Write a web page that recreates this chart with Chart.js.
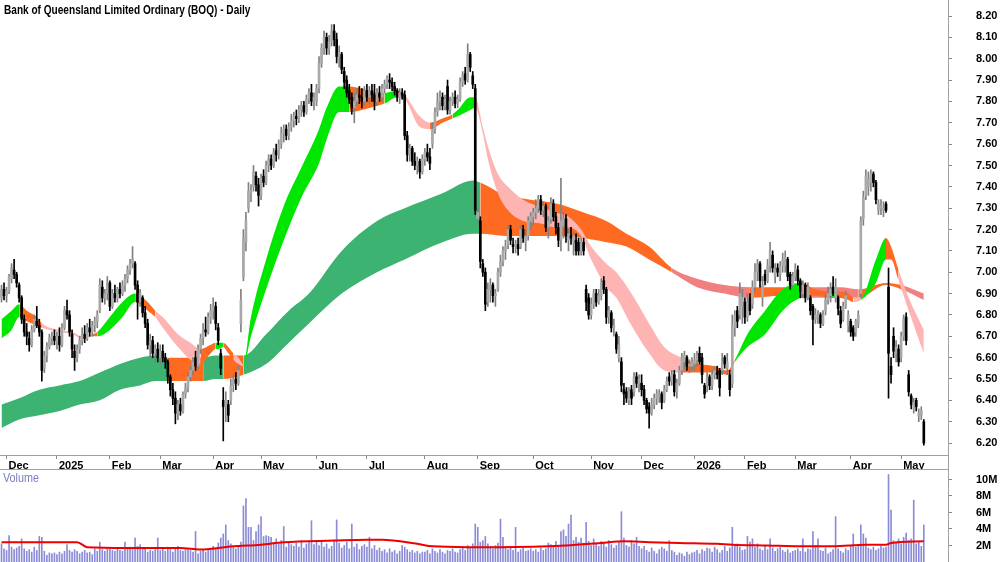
<!DOCTYPE html>
<html>
<head>
<meta charset="utf-8">
<script src="https://cdn.jsdelivr.net/npm/chart.js@4.4.1/dist/chart.umd.min.js"></script>
<style>
  body { margin: 0; background: #fff; }
  #wrap { position: relative; width: 1000px; height: 562px; overflow: hidden; background: #fff;
          font-family: 'Liberation Sans', Arial, sans-serif; }
  #mainBox { position: absolute; left: 0; top: 0; width: 1000px; height: 469px; }
  #volBox { position: absolute; left: 0; top: 469px; width: 1000px; height: 93px; }
  .title { position: absolute; left: 4px; top: 3px; font-size: 12px; font-weight: bold; color: #000;
           white-space: nowrap; transform: scaleX(0.84); transform-origin: 0 0; }
  .vlabel { position: absolute; left: 3px; top: 471px; font-size: 12px; color: #7c7cc4;
            transform: scaleX(0.9); transform-origin: 0 0; }
  .hline { position: absolute; left: 0; top: 469px; width: 948px; height: 1px; background: #a0a0a0; }
  .vline { position: absolute; left: 948px; top: 455px; width: 1px; height: 15px; background: #a0a0a0; }
</style>
</head>
<body>
<div id="wrap">
  <div id="mainBox"><canvas id="priceChart"></canvas></div>
  <div id="volBox"><canvas id="volumeChart"></canvas></div>
  <div class="hline"></div>
  <div class="vline"></div>
  <div class="title">Bank of Queensland Limited Ordinary (BOQ) - Daily</div>
  <div class="vlabel">Volume</div>
</div>
<script>
const FONT = "'Liberation Sans', Arial, sans-serif";

// x axis: bar index of first trading day of each month
const monthStarts = [2, 22, 43, 63, 84, 103, 125, 145, 168, 189, 211, 234, 254, 275, 295, 315, 337, 357];
const monthLabels = ['Dec', '2025', 'Feb', 'Mar', 'Apr', 'May', 'Jun', 'Jul', 'Aug', 'Sep', 'Oct', 'Nov', 'Dec', '2026', 'Feb', 'Mar', 'Apr', 'May'];
const priceTicks = [6.2, 6.3, 6.4, 6.5, 6.6, 6.7, 6.8, 6.9, 7.0, 7.1, 7.2, 7.3, 7.4, 7.5, 7.6, 7.7, 7.8, 7.9, 8.0, 8.1, 8.2];
const volumeTicks = [2e6, 4e6, 6e6, 8e6, 10e6];

// daily prices, one line per month (Nov 2024 .. May 2026)
const opens = [
  6.88,6.92,
  6.89,6.91,6.97,7.01,6.99,6.94,6.88,6.78,6.72,6.69,6.66,6.73,6.77,6.75,6.72,6.55,6.61,6.65,6.69,6.70,
  6.68,6.70,6.66,6.74,6.82,6.80,6.71,6.63,6.60,6.64,6.68,6.71,6.69,6.74,6.72,6.75,6.77,6.82,6.93,6.88,6.90,
  6.95,6.84,6.90,6.88,6.92,6.90,6.94,6.97,7.01,7.04,7.04,6.94,6.86,6.88,6.81,6.76,6.66,6.68,6.62,6.64,
  6.60,6.63,6.60,6.58,6.51,6.45,6.41,6.34,6.38,6.35,6.43,6.46,6.51,6.54,6.60,6.56,6.64,6.69,6.73,6.72,6.79,
  6.82,6.84,6.74,6.62,6.40,6.37,6.38,6.40,6.47,6.50,6.48,6.76,6.98,7.14,7.30,7.37,7.40,7.45,7.41,
  7.36,7.45,7.42,7.50,7.53,7.50,7.57,7.55,7.60,7.65,7.67,7.64,7.68,7.71,7.73,7.72,7.76,7.78,7.75,7.81,7.84,7.80,
  7.80,7.86,7.98,8.05,8.10,8.05,8.08,8.13,8.09,8.01,8.02,7.94,7.90,7.85,7.82,7.77,7.80,7.83,7.82,7.80,
  7.85,7.82,7.85,7.83,7.80,7.84,7.82,7.86,7.88,7.90,7.89,7.87,7.85,7.82,7.84,7.83,7.64,7.55,7.58,7.52,7.50,7.52,7.47,
  7.53,7.56,7.54,7.60,7.67,7.75,7.80,7.82,7.78,7.87,7.76,7.80,7.82,7.79,7.81,7.89,7.93,7.90,8.02,7.92,7.86,
  7.25,7.24,7.04,7.00,6.86,6.92,6.94,6.89,6.92,7.00,7.05,7.10,7.13,7.20,7.13,7.12,7.13,7.12,7.20,7.14,7.17,7.24,
  7.26,7.28,7.30,7.34,7.29,7.31,7.21,7.25,7.32,7.26,7.21,7.15,7.22,7.25,7.15,7.17,7.14,7.15,7.14,7.10,7.14,6.92,6.88,
  6.80,6.85,6.90,6.86,6.89,6.96,6.92,6.79,6.81,6.74,6.71,6.60,6.58,6.45,6.44,6.40,6.45,6.44,6.51,6.48,
  6.48,6.45,6.40,6.37,6.34,6.38,6.41,6.42,6.43,6.40,6.45,6.51,6.49,6.52,6.44,6.48,6.54,6.58,6.60,6.56,6.56,
  6.57,6.59,6.62,6.60,6.47,6.47,6.51,6.47,6.52,6.53,6.54,6.54,6.60,6.55,6.52,6.48,6.74,6.82,6.80,6.84,
  6.86,6.79,6.88,6.85,6.93,7.00,7.04,6.88,6.99,6.96,7.03,7.08,6.98,7.02,6.99,7.03,7.03,7.06,6.99,6.94,
  6.98,7.01,6.96,6.90,6.94,6.88,6.88,6.84,6.78,6.79,6.80,6.76,6.82,6.87,6.89,6.93,6.88,6.88,6.82,6.78,6.84,6.75,
  6.77,6.74,6.72,6.76,6.90,7.25,7.36,7.40,7.42,7.46,7.42,7.29,7.30,7.29,7.32,6.93,6.56,6.70,6.62,6.64,
  6.60,6.70,6.79,6.52,6.42,6.36,6.40,6.33,6.33,6.30
];
const highs = [
  6.94,6.95,
  6.93,6.99,7.04,7.06,7.00,6.95,6.89,6.80,6.76,6.72,6.75,6.80,6.84,6.78,6.73,6.63,6.67,6.71,6.72,6.73,
  6.72,6.74,6.76,6.84,6.87,6.82,6.73,6.66,6.66,6.70,6.74,6.75,6.76,6.78,6.77,6.79,6.82,6.97,6.96,6.92,6.98,
  6.96,6.92,6.94,6.93,6.95,6.96,6.99,7.03,7.06,7.12,7.05,6.96,6.92,6.89,6.84,6.78,6.71,6.70,6.66,6.67,
  6.66,6.66,6.62,6.59,6.52,6.48,6.44,6.40,6.41,6.44,6.48,6.53,6.56,6.60,6.63,6.66,6.71,6.76,6.79,6.81,6.85,
  6.88,6.86,6.76,6.64,6.46,6.44,6.40,6.50,6.52,6.53,6.56,6.92,7.20,7.28,7.42,7.41,7.50,7.47,7.44,
  7.46,7.48,7.52,7.55,7.55,7.58,7.60,7.62,7.68,7.69,7.69,7.70,7.74,7.75,7.76,7.78,7.80,7.80,7.83,7.86,7.88,7.84,
  7.88,8.01,8.07,8.13,8.12,8.11,8.16,8.16,8.12,8.06,8.03,7.96,7.92,7.88,7.84,7.84,7.86,7.87,7.86,7.87,
  7.88,7.87,7.88,7.88,7.86,7.87,7.88,7.90,7.92,7.93,7.91,7.89,7.86,7.86,7.86,7.85,7.66,7.60,7.59,7.56,7.54,7.53,7.55,
  7.58,7.60,7.58,7.70,7.77,7.84,7.85,7.84,7.83,7.90,7.82,7.84,7.85,7.83,7.91,7.94,7.96,8.07,8.03,7.94,7.88,
  7.30,7.26,7.06,7.02,6.95,6.97,6.95,6.92,7.02,7.08,7.12,7.15,7.22,7.22,7.16,7.15,7.16,7.22,7.22,7.20,7.26,7.28,
  7.30,7.34,7.36,7.36,7.33,7.32,7.26,7.35,7.34,7.28,7.23,7.44,7.28,7.27,7.20,7.21,7.19,7.18,7.16,7.16,7.16,6.94,6.90,
  6.88,6.92,6.92,6.92,6.97,6.98,6.93,6.84,6.82,6.78,6.72,6.70,6.60,6.48,6.46,6.46,6.47,6.53,6.53,6.52,
  6.52,6.47,6.41,6.39,6.41,6.43,6.45,6.45,6.44,6.47,6.51,6.53,6.54,6.54,6.50,6.56,6.62,6.63,6.61,6.59,6.60,
  6.62,6.63,6.65,6.62,6.48,6.53,6.52,6.54,6.56,6.56,6.55,6.62,6.61,6.62,6.54,6.80,6.82,6.84,6.95,6.92,
  6.88,6.90,6.90,6.96,7.04,7.06,7.05,6.98,7.01,7.06,7.14,7.10,7.04,7.04,7.05,7.09,7.10,7.07,7.00,7.00,
  7.04,7.03,6.97,6.96,6.95,6.95,6.89,6.85,6.83,6.82,6.81,6.82,6.90,6.93,6.95,6.98,6.97,6.89,6.84,6.86,6.91,6.82,
  6.78,6.75,6.78,6.82,7.26,7.38,7.48,7.47,7.48,7.47,7.43,7.34,7.34,7.33,7.33,7.02,6.60,6.74,6.68,6.66,
  6.72,6.80,6.81,6.54,6.43,6.41,6.41,6.36,6.37,6.31
];
const lows = [
  6.86,6.87,
  6.86,6.90,6.95,6.97,6.93,6.86,6.76,6.70,6.66,6.63,6.65,6.72,6.74,6.70,6.49,6.53,6.58,6.64,6.66,6.66,
  6.64,6.63,6.65,6.73,6.78,6.70,6.60,6.54,6.58,6.62,6.66,6.67,6.68,6.70,6.70,6.72,6.74,6.81,6.86,6.85,6.87,
  6.82,6.83,6.86,6.86,6.88,6.89,6.91,6.95,6.99,7.02,6.92,6.78,6.84,6.79,6.74,6.64,6.60,6.60,6.58,6.58,
  6.57,6.58,6.55,6.48,6.42,6.38,6.29,6.31,6.33,6.34,6.41,6.44,6.49,6.52,6.54,6.55,6.62,6.66,6.70,6.71,6.76,
  6.78,6.73,6.66,6.52,6.21,6.30,6.30,6.38,6.44,6.45,6.47,6.72,6.96,7.10,7.28,7.33,7.38,7.38,7.31,
  7.34,7.40,7.41,7.47,7.48,7.49,7.52,7.53,7.58,7.61,7.62,7.62,7.66,7.68,7.69,7.70,7.73,7.73,7.74,7.79,7.78,7.76,
  7.78,7.84,7.96,8.02,8.02,8.02,8.06,8.06,7.98,7.96,7.93,7.86,7.82,7.79,7.74,7.70,7.78,7.79,7.77,7.78,
  7.80,7.79,7.80,7.76,7.78,7.80,7.80,7.84,7.86,7.86,7.85,7.83,7.80,7.79,7.81,7.62,7.52,7.52,7.50,7.48,7.46,7.44,7.46,
  7.50,7.52,7.48,7.58,7.65,7.73,7.76,7.76,7.76,7.74,7.74,7.78,7.77,7.77,7.80,7.87,7.88,7.89,7.94,7.86,7.27,
  7.22,7.02,6.98,6.82,6.84,6.86,6.86,6.84,6.91,6.98,7.03,7.06,7.11,7.13,7.09,7.09,7.08,7.11,7.14,7.10,7.15,7.20,
  7.22,7.25,7.28,7.27,7.26,7.19,7.16,7.23,7.24,7.18,7.12,7.10,7.16,7.14,7.10,7.13,7.08,7.08,7.08,7.08,7.08,6.82,6.78,
  6.78,6.83,6.84,6.85,6.87,6.90,6.76,6.76,6.72,6.70,6.62,6.58,6.44,6.38,6.39,6.38,6.38,6.42,6.46,6.44,
  6.42,6.38,6.34,6.27,6.33,6.36,6.38,6.39,6.36,6.39,6.44,6.47,6.47,6.42,6.41,6.47,6.52,6.55,6.54,6.53,6.54,
  6.54,6.56,6.57,6.48,6.41,6.44,6.45,6.45,6.50,6.50,6.42,6.52,6.55,6.52,6.42,6.46,6.70,6.74,6.78,6.76,
  6.76,6.77,6.80,6.83,6.91,6.96,6.93,6.84,6.94,6.95,7.00,7.00,6.95,6.98,6.96,7.00,7.00,6.96,6.92,6.93,
  6.96,6.94,6.88,6.88,6.86,6.87,6.80,6.66,6.76,6.76,6.74,6.75,6.80,6.85,6.86,6.89,6.86,6.80,6.74,6.77,6.83,6.72,
  6.70,6.68,6.70,6.74,6.88,7.22,7.34,7.36,7.38,7.40,7.32,7.27,7.27,7.26,7.28,6.41,6.48,6.60,6.58,6.56,
  6.58,6.68,6.66,6.42,6.36,6.34,6.35,6.30,6.31,6.19
];
const closes = [
  6.92,6.89,
  6.91,6.98,7.02,6.99,6.95,6.88,6.78,6.72,6.70,6.66,6.73,6.78,6.75,6.72,6.54,6.61,6.65,6.69,6.70,6.68,
  6.70,6.66,6.74,6.82,6.80,6.72,6.64,6.60,6.64,6.68,6.71,6.69,6.74,6.72,6.75,6.77,6.80,6.94,6.88,6.90,6.95,
  6.84,6.90,6.88,6.92,6.90,6.94,6.97,7.01,7.04,7.06,6.94,6.86,6.90,6.81,6.76,6.66,6.68,6.62,6.64,6.60,
  6.63,6.60,6.58,6.51,6.45,6.41,6.34,6.38,6.35,6.43,6.46,6.51,6.54,6.58,6.56,6.64,6.69,6.73,6.72,6.79,6.82,
  6.84,6.76,6.68,6.55,6.37,6.40,6.33,6.47,6.50,6.48,6.54,6.87,7.16,7.24,7.38,7.38,7.47,7.41,7.36,
  7.44,7.42,7.50,7.53,7.50,7.56,7.55,7.60,7.65,7.67,7.64,7.68,7.71,7.73,7.72,7.76,7.78,7.75,7.81,7.84,7.80,7.82,
  7.86,7.98,8.05,8.10,8.05,8.08,8.13,8.09,8.01,8.03,7.95,7.89,7.84,7.81,7.77,7.80,7.83,7.82,7.80,7.85,
  7.82,7.85,7.83,7.80,7.84,7.82,7.86,7.88,7.91,7.89,7.87,7.85,7.82,7.84,7.83,7.64,7.55,7.58,7.52,7.50,7.52,7.47,7.53,
  7.56,7.54,7.51,7.67,7.75,7.80,7.82,7.78,7.81,7.76,7.80,7.82,7.79,7.81,7.89,7.92,7.90,8.02,7.96,7.88,7.29,
  7.28,7.05,7.00,6.85,6.92,6.94,6.89,6.90,7.00,7.05,7.10,7.12,7.20,7.15,7.12,7.13,7.11,7.20,7.16,7.17,7.24,7.26,
  7.28,7.30,7.34,7.29,7.31,7.21,7.24,7.32,7.26,7.21,7.15,7.24,7.25,7.17,7.18,7.16,7.17,7.10,7.10,7.14,7.10,6.86,6.80,
  6.85,6.90,6.86,6.89,6.95,6.92,6.79,6.82,6.74,6.75,6.64,6.66,6.47,6.43,6.41,6.44,6.41,6.51,6.48,6.50,
  6.45,6.40,6.36,6.34,6.38,6.41,6.43,6.43,6.39,6.45,6.49,6.49,6.52,6.44,6.48,6.54,6.60,6.61,6.56,6.57,6.58,
  6.59,6.61,6.58,6.52,6.43,6.51,6.47,6.52,6.54,6.52,6.46,6.58,6.57,6.58,6.45,6.75,6.80,6.77,6.90,6.88,
  6.79,6.86,6.82,6.93,7.00,7.04,6.96,6.94,6.96,7.03,7.10,7.02,7.01,7.00,7.03,7.06,7.07,6.98,6.94,6.98,
  7.02,6.96,6.91,6.94,6.88,6.93,6.82,6.78,6.80,6.80,6.76,6.80,6.87,6.90,6.92,6.90,6.93,6.83,6.76,6.84,6.89,6.80,
  6.72,6.70,6.77,6.80,7.24,7.35,7.45,7.44,7.46,7.42,7.34,7.32,7.31,7.30,7.29,6.62,6.52,6.63,6.65,6.58,
  6.70,6.78,6.68,6.44,6.38,6.39,6.37,6.34,6.35,6.20
];
// daily volume, millions of shares
const volumesM = [
  2.2,1.6,
  1.4,3.2,1.8,1.5,1.7,1.9,2.8,1.6,1.3,1.5,1.2,1.8,1.4,3.1,3.0,1.3,0.8,1.1,1.0,1.1,
  0.9,1.2,1.0,1.3,2.1,1.4,1.2,1.5,1.3,1.0,1.2,1.4,1.1,1.2,0.9,1.6,1.3,2.4,1.5,1.3,1.6,
  1.6,1.4,1.3,1.7,1.4,1.3,2.4,1.6,1.8,1.5,2.9,1.9,2.1,1.6,1.7,1.2,1.4,1.3,1.5,2.9,
  1.4,1.6,1.3,1.8,1.5,1.2,1.7,1.9,1.4,1.3,1.5,1.6,1.4,1.2,3.7,1.0,1.3,1.5,1.2,1.4,1.6,
  1.9,1.7,2.3,2.9,3.4,4.5,2.6,2.2,1.8,1.6,1.9,2.4,6.8,7.7,4.2,4.2,2.6,3.7,4.5,
  5.5,3.1,3.2,3.1,3.0,2.4,2.8,2.2,2.6,4.3,1.8,2.4,2.1,1.9,2.3,1.8,2.6,1.7,2.2,2.4,5.0,2.1,
  2.4,2.0,2.6,1.8,2.2,1.6,1.9,2.5,5.1,2.3,1.7,2.0,2.4,1.6,4.6,1.8,2.2,1.5,1.9,2.1,
  1.8,3.0,1.6,2.0,1.4,1.7,1.3,1.5,1.1,1.6,1.2,1.4,1.0,1.3,2.0,1.8,1.5,1.2,1.4,1.1,1.3,1.0,1.2,
  1.2,1.4,1.0,1.6,1.3,1.1,1.5,1.2,1.0,1.4,1.3,1.6,1.2,1.1,1.5,1.9,1.4,2.0,1.8,2.2,4.6,
  4.2,2.4,2.6,3.1,2.2,1.9,1.6,2.0,2.3,5.2,3.0,1.8,1.5,1.7,1.4,4.2,1.2,1.5,1.7,1.3,1.4,1.6,
  1.3,1.5,1.2,1.7,1.4,1.6,2.3,2.1,1.8,2.5,2.0,3.7,3.9,3.1,4.6,5.7,2.6,3.0,2.4,2.9,2.3,4.8,2.5,
  2.0,2.8,2.2,1.9,2.5,2.3,1.8,2.6,2.1,1.7,2.0,2.4,6.1,2.9,2.0,1.8,2.6,2.2,3.0,1.9,
  1.6,1.9,1.4,1.2,1.7,1.3,1.0,1.5,1.8,1.6,1.3,2.6,1.4,1.2,0.8,1.1,1.0,0.7,1.2,0.9,1.1,
  1.2,1.4,1.0,1.5,1.3,1.7,1.6,1.2,1.8,1.5,1.1,1.4,1.9,1.3,1.7,4.2,2.0,2.2,1.8,1.4,
  1.5,3.1,2.4,2.8,1.8,2.2,1.6,1.4,2.0,1.5,2.8,1.7,1.3,1.6,1.8,1.4,1.2,1.5,1.1,1.3,
  1.4,1.6,1.3,2.8,1.2,1.6,1.5,3.7,2.0,2.8,1.4,1.3,1.7,1.0,1.2,1.5,5.5,1.6,1.3,1.1,1.6,1.4,
  1.9,3.4,1.8,2.1,4.5,3.4,2.9,1.7,1.5,1.8,1.4,1.6,1.9,1.7,1.8,10.6,6.3,2.6,2.4,2.8,
  2.2,3.0,3.5,2.6,2.8,7.5,2.2,2.5,1.9,4.5
];

// short-term ribbon (outer edges), read at sample bars
const shortIdx   = [0, 4, 7, 10, 14, 16, 23, 28, 32, 36, 38, 43, 48, 53, 58, 61, 64, 70, 75, 79, 83, 85, 86, 88, 90, 92, 94, 96, 99, 105, 112, 119, 126, 129, 134, 138, 143, 149, 152, 157, 160, 166, 170, 175, 179, 181, 186, 188, 191, 193, 197, 201, 207, 213, 220, 225, 230, 234, 240, 244, 250, 257, 263, 270, 277, 283, 288, 291, 296, 303, 310, 317, 323, 329, 332, 336, 338, 341, 347, 351, 353, 356, 360, 366];
const shortHi    = [6.78, 6.82, 6.85, 6.82, 6.79, 6.76, 6.73, 6.72, 6.70, 6.71, 6.72, 6.79, 6.86, 6.90, 6.86, 6.82, 6.79, 6.71, 6.67, 6.64, 6.66, 6.67, 6.67, 6.67, 6.65, 6.62, 6.60, 6.57, 6.79, 7.06, 7.31, 7.49, 7.67, 7.77, 7.87, 7.87, 7.86, 7.84, 7.84, 7.85, 7.83, 7.73, 7.70, 7.72, 7.74, 7.76, 7.82, 7.82, 7.68, 7.59, 7.46, 7.40, 7.34, 7.31, 7.28, 7.26, 7.20, 7.12, 7.04, 7.00, 6.90, 6.76, 6.65, 6.60, 6.57, 6.56, 6.54, 6.59, 6.71, 6.82, 6.92, 6.95, 6.92, 6.91, 6.91, 6.90, 6.88, 6.88, 7.06, 7.16, 7.12, 7.01, 6.88, 6.73];
const shortLo    = [6.69, 6.73, 6.79, 6.77, 6.75, 6.74, 6.72, 6.71, 6.69, 6.70, 6.70, 6.73, 6.79, 6.86, 6.82, 6.79, 6.74, 6.65, 6.59, 6.57, 6.62, 6.64, 6.64, 6.65, 6.62, 6.59, 6.57, 6.56, 6.70, 6.92, 7.15, 7.35, 7.51, 7.62, 7.75, 7.75, 7.76, 7.78, 7.79, 7.82, 7.81, 7.68, 7.67, 7.70, 7.72, 7.73, 7.76, 7.77, 7.65, 7.53, 7.37, 7.29, 7.24, 7.23, 7.21, 7.21, 7.17, 7.06, 6.93, 6.88, 6.75, 6.62, 6.54, 6.53, 6.53, 6.53, 6.52, 6.58, 6.65, 6.71, 6.82, 6.88, 6.89, 6.88, 6.88, 6.87, 6.86, 6.87, 6.95, 7.06, 7.06, 6.96, 6.82, 6.62];
const shortState = ['up','up','mix','mix','mix','down','down','down','down','mix','up','up','up','mix','mix','down','down','down','down','mix','mix','up','up','mix','mix','down','down','up','up','up','up','up','up','up','up','mix','mix','mix','up','mix','down','down','mix','mix','up','up','up','down','down','down','down','down','down','down','down','down','down','down','down','down','down','down','down','mix','mix','mix','mix','up','up','up','up','mix','mix','up','mix','mix','down','up','up','mix','mix','down','down','down'];

// long-term ribbon (outer edges)
const longIdx   = [0, 7, 15, 23, 31, 39, 47, 55, 61, 66, 73, 80, 85, 88, 96, 105, 114, 122, 135, 149, 160, 175, 187, 190, 200, 210, 221, 231, 240, 248, 257, 266, 276, 287, 297, 310, 319, 333, 340, 351, 357, 366];
const longHi    = [6.38, 6.41, 6.45, 6.47, 6.49, 6.53, 6.57, 6.60, 6.61, 6.60, 6.60, 6.60, 6.61, 6.61, 6.61, 6.71, 6.82, 6.90, 7.10, 7.24, 7.30, 7.37, 7.43, 7.42, 7.36, 7.34, 7.32, 7.28, 7.24, 7.18, 7.12, 7.02, 6.97, 6.94, 6.93, 6.93, 6.93, 6.93, 6.92, 6.95, 6.94, 6.90];
const longLo    = [6.27, 6.31, 6.33, 6.35, 6.38, 6.40, 6.45, 6.47, 6.49, 6.49, 6.49, 6.49, 6.50, 6.50, 6.52, 6.57, 6.67, 6.76, 6.90, 7.00, 7.06, 7.14, 7.18, 7.18, 7.17, 7.17, 7.17, 7.16, 7.14, 7.12, 7.06, 7.00, 6.93, 6.90, 6.88, 6.89, 6.88, 6.88, 6.88, 6.94, 6.92, 6.87];
const longState = ['up','up','up','up','up','up','up','up','up','mix','mix','up','up','mix','up','up','up','up','up','up','up','up','up','mix','mix','mix','mix','mix','mix','mix','mix','down','down','down','mix','mix','down','down','mix','mix','down','down'];

// volume moving average (red line), millions
const volAvgIdx = [0, 30, 34, 50, 71, 79, 92, 103, 112, 132, 145, 151, 165, 171, 185, 198, 224, 238, 247, 257, 269, 284, 290, 304, 317, 330, 343, 351, 353, 366];
const volAvg    = [2.4, 2.4, 1.8, 1.7, 1.7, 1.5, 1.9, 2.1, 2.4, 2.6, 2.7, 2.7, 2.2, 1.9, 1.8, 1.8, 2.0, 2.3, 2.5, 2.4, 2.3, 2.2, 2.1, 2.0, 1.9, 1.9, 2.1, 2.1, 2.3, 2.5];

const shortColors = { up: '#00e600', mix: '#ff6a22', down: '#ffb4b4' };
const longColors  = { up: '#3cb371', mix: '#ff6a22', down: '#f08080' };
const X_MIN = -0.6, X_MAX = 375.6;

function ribbonSets(idx, hi, lo, state, colors, order) {
  const top = idx.map((v, k) => ({ x: v, y: hi[k] }));
  const bottom = idx.map((v, k) => ({ x: v, y: lo[k] }));
  const common = { type: 'line', order: order, pointRadius: 0, borderWidth: 1,
                   borderColor: 'rgba(0,0,0,0)', cubicInterpolationMode: 'monotone' };
  return [
    Object.assign({}, common, {
      data: top, fill: '+1', backgroundColor: colors.up,
      segment: { backgroundColor: ctx => colors[state[ctx.p0DataIndex]] }
    }),
    Object.assign({}, common, { data: bottom, fill: false })
  ];
}

const upCandle = '#a9a9a9';
const isUp = i => closes[i] >= opens[i];

const wicks = closes.map((c, i) => ({ x: i, y: [lows[i], highs[i]] }));
const bodies = closes.map((c, i) => ({ x: i, y: [opens[i], c] }));

const tickFont = { family: FONT, size: 11, weight: 'bold' };

new Chart(document.getElementById('priceChart'), {
  type: 'line',
  data: {
    datasets: [
      ...ribbonSets(longIdx, longHi, longLo, longState, longColors, 3),
      ...ribbonSets(shortIdx, shortHi, shortLo, shortState, shortColors, 2),
      {
        type: 'bar', order: 1, data: wicks, grouped: false, barThickness: 1,
        backgroundColor: ctx => isUp(ctx.dataIndex) ? '#808080' : '#000'
      },
      {
        type: 'bar', order: 0, data: bodies, grouped: false, barThickness: 2, minBarLength: 1,
        backgroundColor: ctx => isUp(ctx.dataIndex) ? upCandle : '#000'
      }
    ]
  },
  options: {
    responsive: true,
    maintainAspectRatio: false,
    animation: false,
    events: [],
    layout: { padding: 0 },
    plugins: { legend: { display: false }, tooltip: { enabled: false }, title: { display: false } },
    scales: {
      x: {
        type: 'linear', min: X_MIN, max: X_MAX, offset: false,
        grid: { drawOnChartArea: false, tickLength: 4, color: '#888', offset: false },
        border: { display: true, color: '#a0a0a0' },
        ticks: { autoSkip: false, maxRotation: 0, align: 'start', labelOffset: 2, padding: 0,
                 color: '#000', font: tickFont, callback: (v, k) => monthLabels[k] },
        afterBuildTicks: s => { s.ticks = monthStarts.map(v => ({ value: v })); },
        afterFit: s => { s.height = 14; s.paddingLeft = 0; s.paddingRight = 0; }
      },
      y: {
        type: 'linear', position: 'right', min: 6.144, max: 8.275, beginAtZero: false,
        grid: { drawOnChartArea: false, tickLength: 4, color: '#888' },
        border: { display: true, color: '#a0a0a0' },
        ticks: { padding: 24, color: '#000', font: tickFont, callback: v => v.toFixed(2) },
        afterBuildTicks: s => { s.ticks = priceTicks.map(v => ({ value: v })); },
        afterFit: s => { s.width = 52; s.paddingTop = 0; s.paddingBottom = 0; }
      }
    }
  }
});

new Chart(document.getElementById('volumeChart'), {
  type: 'line',
  data: {
    datasets: [
      {
        type: 'line', order: 0, data: volAvgIdx.map((v, k) => ({ x: v, y: volAvg[k] * 1e6 })),
        borderColor: '#ee0000', borderWidth: 2, pointRadius: 0, cubicInterpolationMode: 'monotone'
      },
      {
        type: 'bar', order: 1, data: volumesM.map((v, i) => ({ x: i, y: v * 1e6 })),
        barThickness: 1, backgroundColor: '#8c8cd6', grouped: false
      }
    ]
  },
  options: {
    responsive: true,
    maintainAspectRatio: false,
    animation: false,
    events: [],
    layout: { padding: 0 },
    plugins: { legend: { display: false }, tooltip: { enabled: false } },
    scales: {
      x: { type: 'linear', min: X_MIN, max: X_MAX, offset: false, display: false },
      y: {
        type: 'linear', position: 'right', min: 0, max: 11.27e6,
        grid: { drawOnChartArea: false, tickLength: 4, color: '#888' },
        border: { display: true, color: '#a0a0a0' },
        ticks: { padding: 24, color: '#000', font: tickFont, callback: v => (v / 1e6) + 'M' },
        afterBuildTicks: s => { s.ticks = volumeTicks.map(v => ({ value: v })); },
        afterFit: s => { s.width = 52; s.paddingTop = 0; s.paddingBottom = 0; }
      }
    }
  }
});
</script>
</body>
</html>
